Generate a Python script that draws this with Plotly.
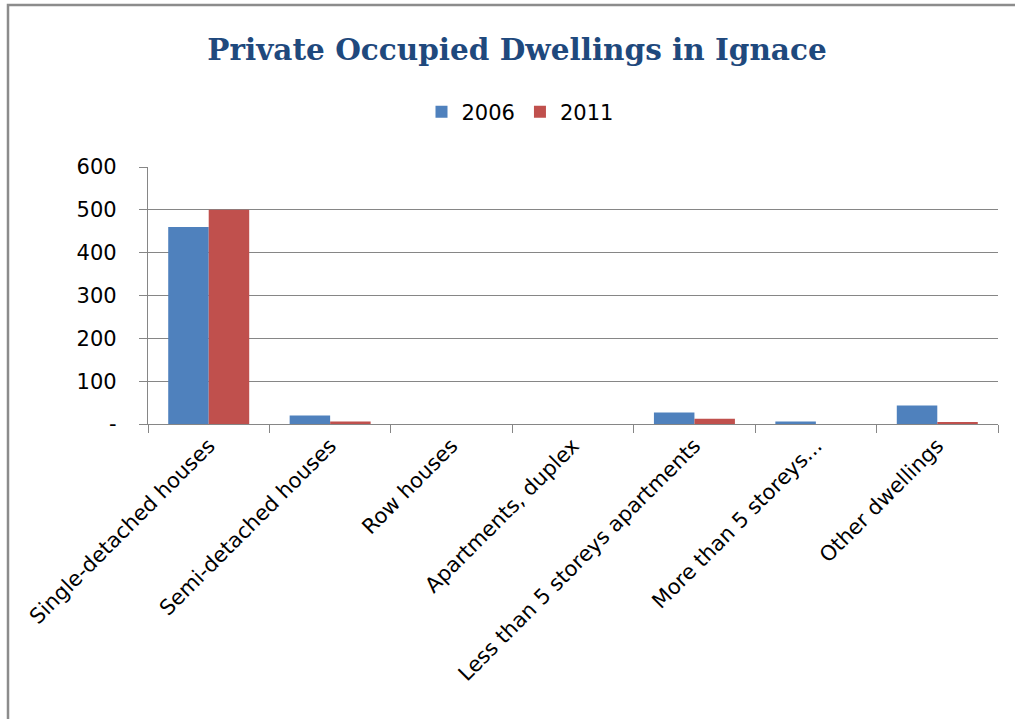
import plotly.graph_objects as go

categories = ["Single-detached houses", "Semi-detached houses", "Row houses",
              "Apartments, duplex", "Less than 5 storeys apartments",
              "More than 5 storeys...", "Other dwellings"]
values_2006 = [460, 20, 0, 0, 27, 6, 43]
values_2011 = [500, 6, 0, 0, 12, 0, 3]
y_tickvals = [0, 100, 200, 300, 400, 500, 600]
y_ticktext = ["-", "100", "200", "300", "400", "500", "600"]

W, H = 1015, 719
L, R, T, B = 148, 998, 167, 424

fig = go.Figure()
fig.add_trace(go.Bar(name="2006", x=categories, y=values_2006, marker_color="#4F81BD",
                     marker_line_width=0))
fig.add_trace(go.Bar(name="2011", x=categories, y=values_2011, marker_color="#C0504D",
                     marker_line_width=0))

pw, ph = R - L, B - T
def px(x):
    return (x - L) / pw
def py(y):
    return (B - y) / ph

fig.add_shape(type="rect", xref="paper", yref="paper",
              x0=px(8), x1=px(1040), y0=py(5), y1=py(760),
              line=dict(color="#8C8C8C", width=2.5), fillcolor="rgba(0,0,0,0)", layer="below")

font_main = "DejaVu Sans, sans-serif"
fig.update_layout(
    width=W, height=H,
    margin=dict(l=L, r=W - R, t=T, b=H - B, autoexpand=False),
    paper_bgcolor="white", plot_bgcolor="white",
    barmode="group", bargap=0.333, bargroupgap=0,
    title=dict(text="<b>Private Occupied Dwellings in Ignace</b>",
               x=517 / W, xanchor="center", y=1 - 50 / H, yanchor="middle",
               font=dict(family="DejaVu Serif, serif", size=29.5, color="#1F497D")),
    legend=dict(orientation="h", x=px(520), xanchor="center", y=py(112), yanchor="middle",
                font=dict(family=font_main, size=21, color="#000000"),
                bgcolor="rgba(0,0,0,0)", itemwidth=30, traceorder="normal"),
    font=dict(family=font_main, size=21, color="#000000"),
    showlegend=True,
)
fig.update_xaxes(showline=True, linecolor="#868686", linewidth=1.3,
                 ticks="outside", tickson="boundaries", ticklen=8, tickcolor="#868686",
                 tickwidth=1.3, tickangle=-45, showgrid=False,
                 tickfont=dict(family=font_main, size=21, color="#000000"))
fig.update_yaxes(range=[0, 600], tickvals=y_tickvals, ticktext=y_ticktext,
                 showline=True, linecolor="#868686", linewidth=1.3,
                 showgrid=True, gridcolor="#868686", gridwidth=1.3,
                 ticks="outside", ticklen=8, tickcolor="#868686", tickwidth=1.3,
                 ticklabelstandoff=18, zeroline=False,
                 tickfont=dict(family=font_main, size=21, color="#000000"))

fig.write_html("out.html", config={"displayModeBar": False},
               post_script="document.body.style.margin='0';document.body.style.overflow='hidden';")
